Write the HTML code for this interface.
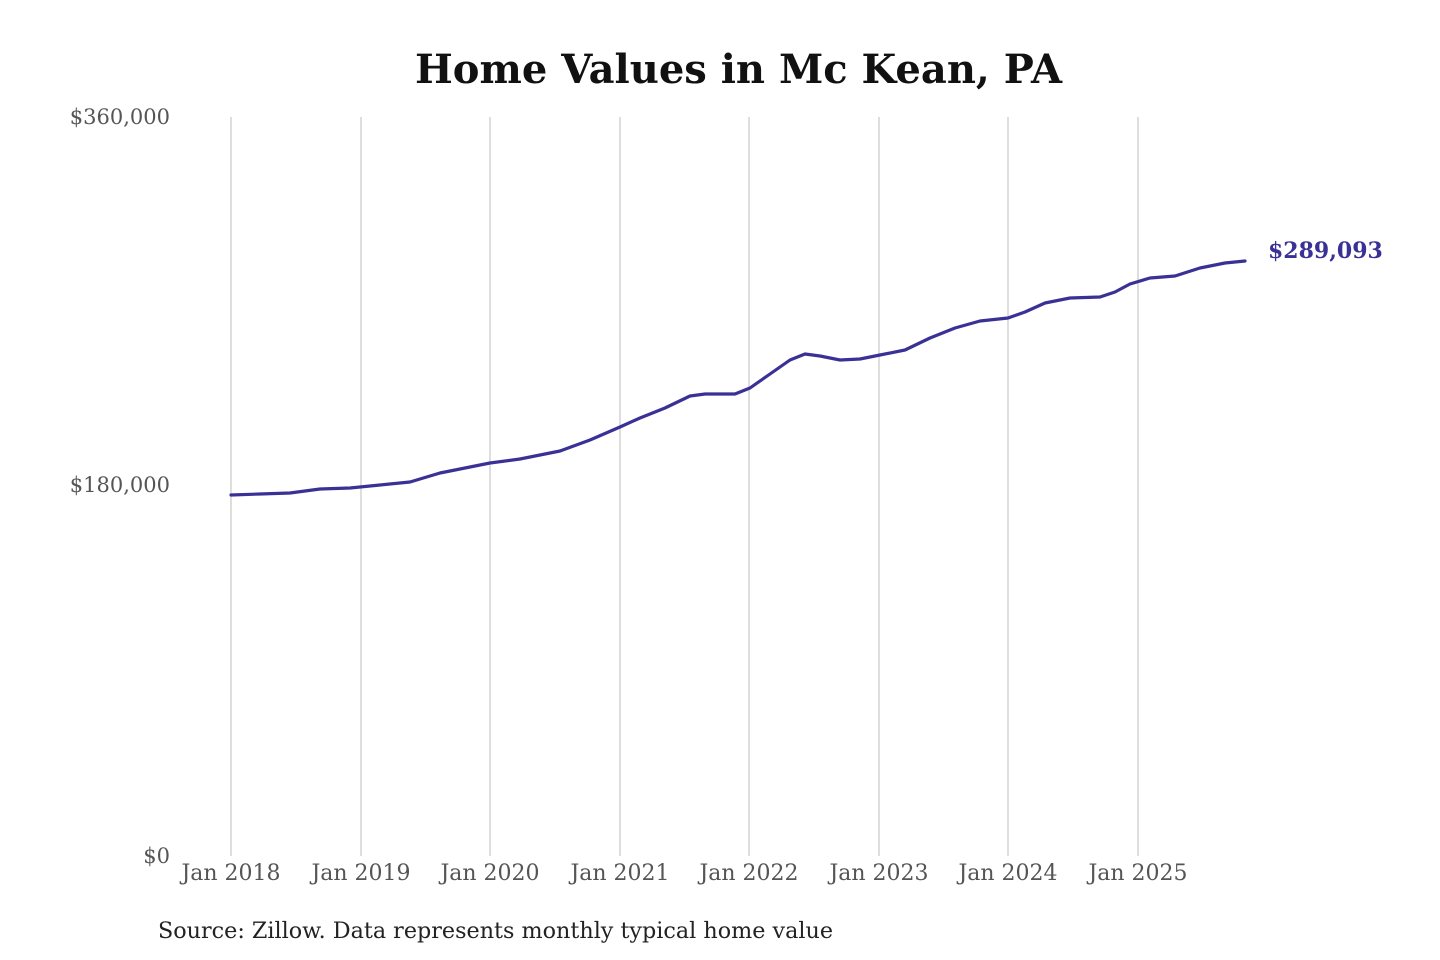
<!DOCTYPE html>
<html><head><meta charset="utf-8"><style>
html,body{margin:0;padding:0;background:#fff;}
svg{display:block;}
text{font-family:"DejaVu Serif","Liberation Serif",serif;}
</style></head><body>
<svg width="1440" height="960" viewBox="0 0 1440 960" xmlns="http://www.w3.org/2000/svg">
<rect width="1440" height="960" fill="#fff"/>
<text x="415" y="83" font-size="40" font-weight="bold" fill="#111" textLength="647" lengthAdjust="spacingAndGlyphs">Home Values in Mc Kean, PA</text>
<g stroke="#c8c8c8" stroke-width="1.2">
<line x1="231" y1="117" x2="231" y2="856"/>
<line x1="361" y1="117" x2="361" y2="856"/>
<line x1="490" y1="117" x2="490" y2="856"/>
<line x1="620" y1="117" x2="620" y2="856"/>
<line x1="749" y1="117" x2="749" y2="856"/>
<line x1="879" y1="117" x2="879" y2="856"/>
<line x1="1008" y1="117" x2="1008" y2="856"/>
<line x1="1138" y1="117" x2="1138" y2="856"/>
</g>
<g font-size="21" fill="#555" text-anchor="end">
<text x="170" y="124">$360,000</text>
<text x="170" y="492">$180,000</text>
<text x="170" y="863">$0</text>
</g>
<g font-size="22" fill="#555" text-anchor="middle">
<text x="231" y="880">Jan 2018</text>
<text x="361" y="880">Jan 2019</text>
<text x="490" y="880">Jan 2020</text>
<text x="620" y="880">Jan 2021</text>
<text x="749" y="880">Jan 2022</text>
<text x="879" y="880">Jan 2023</text>
<text x="1008" y="880">Jan 2024</text>
<text x="1138" y="880">Jan 2025</text>
</g>
<polyline fill="none" stroke="#3a3196" stroke-width="3.2" stroke-linejoin="round" stroke-linecap="round" points="231,495 260,494 290,493 320,489 350,488 380,485 410,482 440,473 470,467 490,463 520,459 560,451 590,440 620,427 640,418 665,408 690,396 705,394 735,394 750,388 770,374 790,360 805,354 820,356 840,360 860,359 880,355 905,350 930,338 955,328 980,321 1008,318 1025,312 1045,303 1070,298 1100,297 1115,292 1130,284 1150,278 1175,276 1200,268 1225,263 1245,261"/>
<text x="1268" y="258" font-size="22" font-weight="bold" fill="#3a3196">$289,093</text>
<text x="158" y="938" font-size="22" fill="#222" textLength="675" lengthAdjust="spacingAndGlyphs">Source: Zillow. Data represents monthly typical home value</text>
</svg>
</body></html>
